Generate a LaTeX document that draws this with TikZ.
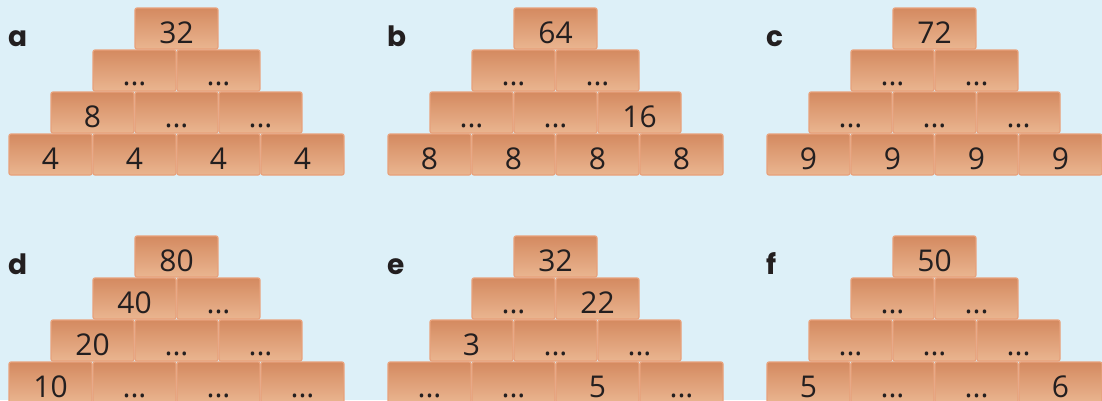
\documentclass[tikz,border=0pt]{standalone}
\usepackage{fontspec}
\setmainfont{Open Sans}
\newfontfamily\tagfont{Poppins}
\usepackage{xcolor}
\definecolor{sky}{HTML}{DDF0F8}
\definecolor{claytop}{HTML}{D48A60}
\definecolor{claybottom}{HTML}{EAB590}
\definecolor{clayedge}{HTML}{E8A17B}
\definecolor{ink}{HTML}{231F20}
\usetikzlibrary{positioning}

\tikzset{
  brick/.style={draw=clayedge, line width=1.2pt, top color=claytop,
        bottom color=claybottom, rounded corners=2pt, minimum width=83pt,
        inner sep=0pt, text height=35pt, text depth=6pt,
        font=\fontsize{30}{30}\selectfont, text=ink},
  tag/.style={anchor=base west, inner sep=0pt,
        font=\tagfont\bfseries\fontsize{28}{28}\selectfont, text=ink}
}

% empty brick
\newcommand{\hole}{...}

% #1 name, #2 left, #3 top, #4..#7 rows from the top
\newcommand{\pyramid}[7]{%
  \node[tag] (#1) at (#2-1, #3+38) {#1};
  \foreach \t [count=\i] in {#4}
    \node[brick] (#1-1-\i) at ({#2+126+(\i-1)*84+41.5}, #3+20.5) {\t};
  \foreach \t [count=\i] in {#5}
    \node[brick] (#1-2-\i) at ({#2+84+(\i-1)*84+41.5}, #3+62.5) {\t};
  \foreach \t [count=\i] in {#6}
    \node[brick] (#1-3-\i) at ({#2+42+(\i-1)*84+41.5}, #3+104.5) {\t};
  \foreach \t [count=\i] in {#7}
    \node[brick] (#1-4-\i) at ({#2+(\i-1)*84+41.5}, #3+146.5) {\t};
}

\begin{document}
\begin{tikzpicture}[x=1pt, y=-1pt]

  \useasboundingbox (0,0) rectangle (1102,400);
  \fill[sky] (0,0) rectangle (1102,400);
  \clip (0,0) rectangle (1102,400);

  \pyramid{a}{9}{8}{32}{\hole,\hole}{8,\hole,\hole}{4,4,4,4}
  \pyramid{b}{388}{8}{64}{\hole,\hole}{\hole,\hole,16}{8,8,8,8}
  \pyramid{c}{767}{8}{72}{\hole,\hole}{\hole,\hole,\hole}{9,9,9,9}

  \pyramid{d}{9}{236}{80}{40,\hole}{20,\hole,\hole}{10,\hole,\hole,\hole}
  \pyramid{e}{388}{236}{32}{\hole,22}{3,\hole,\hole}{\hole,\hole,5,\hole}
  \pyramid{f}{767}{236}{50}{\hole,\hole}{\hole,\hole,\hole}{5,\hole,\hole,6}

\end{tikzpicture}
\end{document}
